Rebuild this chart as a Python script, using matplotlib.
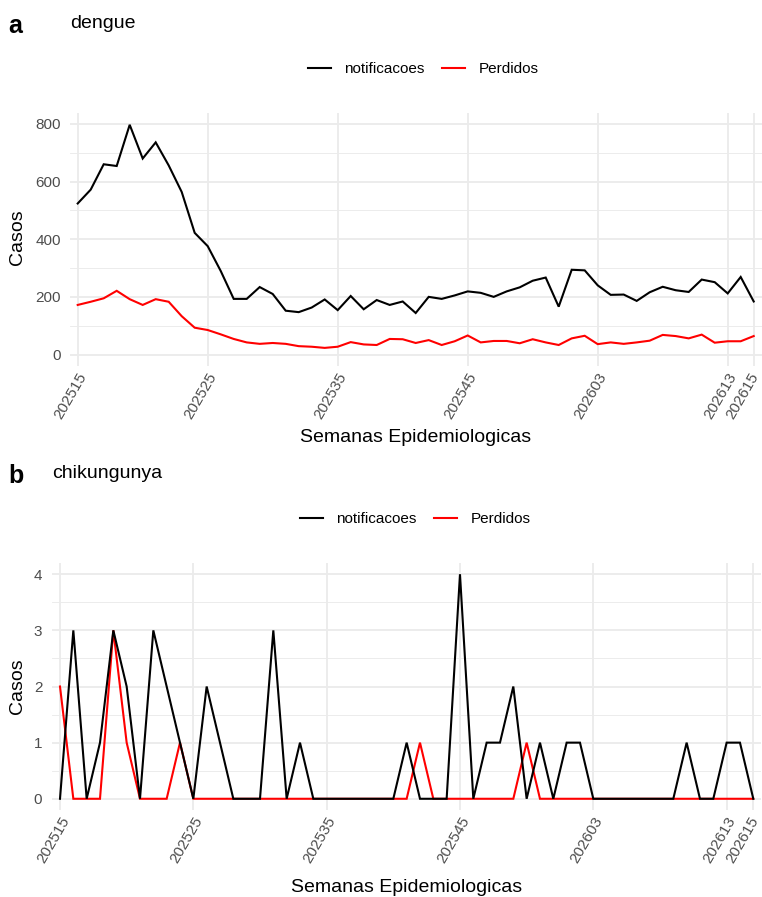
import matplotlib
matplotlib.use('Agg')
import matplotlib.pyplot as plt
import matplotlib.transforms as mtransforms
from matplotlib.lines import Line2D

plt.rcParams['font.family'] = ['Liberation Sans', 'DejaVu Sans']

# ---------------- data ----------------
weeks = [f"2025{w:02d}" for w in range(15, 53)] + [f"2026{w:02d}" for w in range(1, 16)]
tick_weeks = ["202515", "202525", "202535", "202545", "202603", "202613", "202615"]

dengue_notificacoes = [524, 572, 660, 654, 797, 680, 736, 656, 564, 422,
                       376, 290, 193, 193, 234, 210, 152, 147, 163, 191,
                       154, 203, 157, 189, 172, 184, 144, 200, 193, 205,
                       219, 214, 200, 219, 233, 256, 267, 166, 294, 292,
                       240, 207, 208, 186, 216, 235, 223, 217, 260, 251,
                       212, 269, 184]
dengue_perdidos = [172, 183, 195, 221, 192, 172, 192, 183, 133, 93,
                   85, 70, 54, 42, 37, 40, 37, 29, 27, 23,
                   27, 43, 35, 33, 54, 53, 40, 50, 33, 46,
                   66, 42, 47, 47, 39, 53, 42, 33, 56, 65,
                   36, 42, 37, 42, 48, 68, 64, 56, 69, 41,
                   46, 46, 64]

chik_notificacoes = [0, 3, 0, 1, 3, 2, 0, 3, 2, 1,
                     0, 2, 1, 0, 0, 0, 3, 0, 1, 0,
                     0, 0, 0, 0, 0, 0, 1, 0, 0, 0,
                     4, 0, 1, 1, 2, 0, 1, 0, 1, 1,
                     0, 0, 0, 0, 0, 0, 0, 1, 0, 0,
                     1, 1, 0]
chik_perdidos = [2, 0, 0, 0, 3, 1, 0, 0, 0, 1,
                 0, 0, 0, 0, 0, 0, 0, 0, 0, 0,
                 0, 0, 0, 0, 0, 0, 0, 1, 0, 0,
                 0, 0, 0, 0, 0, 1, 0, 0, 0, 0,
                 0, 0, 0, 0, 0, 0, 0, 0, 0, 0,
                 0, 0, 0]

series_labels = ["notificacoes", "Perdidos"]
series_colors = ["black", "red"]

# ---------------- figure ----------------
W, H = 762, 897
fig = plt.figure(figsize=(W / 100, H / 100), dpi=100)

def rect(l, t, r, b):
    return [l / W, 1 - b / H, (r - l) / W, (b - t) / H]

GRID = '#EBEBEB'
TICKC = '#4D4D4D'

def panel(r, notif, perd, ymajor, yminor, ymax, ypad):
    ax = fig.add_axes(r)
    x = list(range(len(weeks)))
    ax.plot(x, perd, color=series_colors[1], lw=1.5, zorder=3, solid_joinstyle='miter')
    ax.plot(x, notif, color=series_colors[0], lw=1.5, zorder=4, solid_joinstyle='miter')
    ax.set_xlim(-0.6, len(weeks) - 1 + 0.6)
    ax.set_ylim(-0.05 * ymax, ymax * 1.05)
    tick_pos = [weeks.index(w) for w in tick_weeks]
    ax.set_xticks(tick_pos)
    # last label drawn separately, nudged so it stays inside the canvas
    ax.set_xticklabels(tick_weeks[:-1] + [""], rotation=60, ha='right', va='top',
                       rotation_mode='anchor', color=TICKC, fontsize=11)
    tr = ax.get_xaxis_transform() + mtransforms.ScaledTranslation(
        -4.5 / 100, -3 / 72, fig.dpi_scale_trans)
    ax.text(tick_pos[-1], 0, tick_weeks[-1], transform=tr, rotation=60,
            ha='right', va='top', rotation_mode='anchor', color=TICKC,
            fontsize=11, clip_on=False)
    ax.set_yticks(ymajor)
    ax.set_yticklabels([str(v) for v in ymajor], color=TICKC, fontsize=11)
    ax.set_yticks(yminor, minor=True)
    ax.tick_params(axis='both', which='both', length=0)
    ax.tick_params(axis='y', pad=ypad)
    ax.tick_params(axis='x', pad=3)
    ax.grid(which='major', axis='both', color=GRID, lw=1.3, zorder=0)
    ax.grid(which='minor', axis='y', color=GRID, lw=0.65, zorder=0)
    ax.set_axisbelow(True)
    for s in ax.spines.values():
        s.set_visible(False)
    return ax

def decorate(offset, tag, title, title_x, legend_cx, panel_cy):
    fig.text(8 / W, 1 - (33 + offset) / H, tag, fontsize=18, fontweight='bold',
             ha='left', va='baseline')
    fig.text(title_x / W, 1 - (28 + offset) / H, title, fontsize=14,
             ha='left', va='baseline')
    handles = [Line2D([], [], color=c, lw=1.5) for c in series_colors]
    fig.legend(handles, series_labels, loc='center',
               bbox_to_anchor=(legend_cx / W, 1 - (69 + offset) / H),
               ncol=2, frameon=False, fontsize=11, handlelength=1.55,
               handletextpad=0.85, columnspacing=1.1)
    fig.text(17.5 / W, 1 - panel_cy / H, "Casos", fontsize=14, rotation=90,
             ha='center', va='center')

# panel a
axa = panel(rect(69.9, 113.3, 761.5, 366), dengue_notificacoes, dengue_perdidos,
            [0, 200, 400, 600, 800], [100, 300, 500, 700], 797, 6.5)
decorate(0, "a", "dengue", 70, 423, 237)
fig.text((69.9 + 761.5) / 2 / W, 1 - 442 / H, "Semanas Epidemiologicas",
         fontsize=14, ha='center', va='baseline')

# panel b
axb = panel(rect(52, 563, 761.3, 810), chik_notificacoes, chik_perdidos,
            [0, 1, 2, 3, 4], [0.5, 1.5, 2.5, 3.5], 4, 7)
decorate(450, "b", "chikungunya", 52, 415, 686)
fig.text((52 + 761.3) / 2 / W, 1 - 892 / H, "Semanas Epidemiologicas",
         fontsize=14, ha='center', va='baseline')

fig.savefig("out.png", dpi=100)
